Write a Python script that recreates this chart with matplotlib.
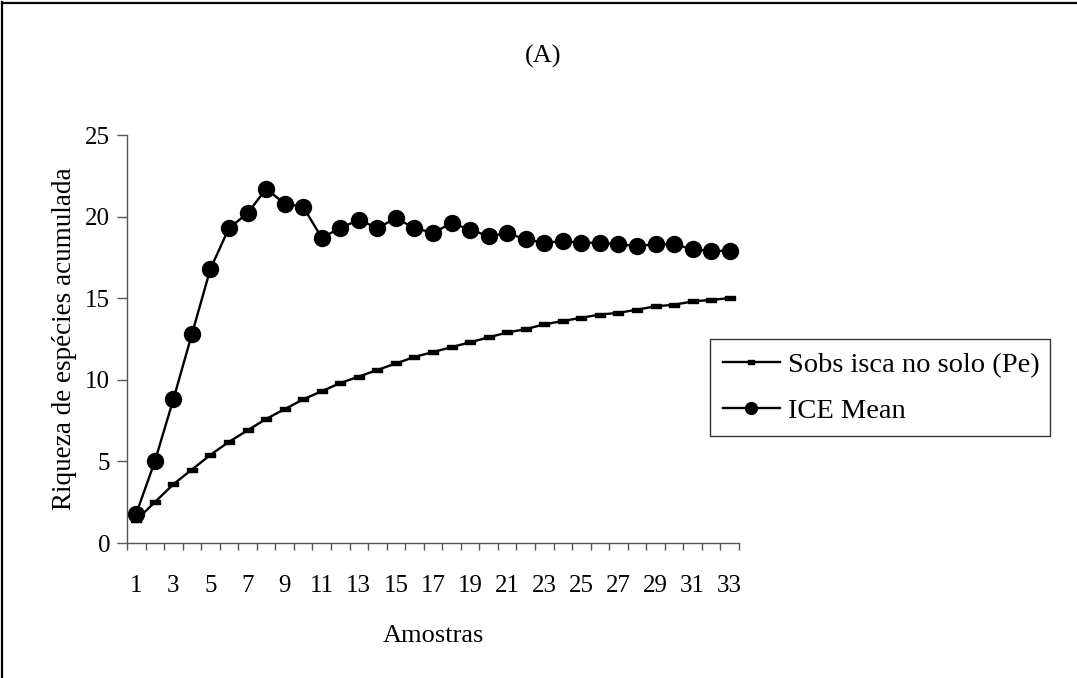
import numpy as np
import matplotlib.pyplot as plt
from matplotlib.lines import Line2D
from matplotlib.path import Path

plt.rcParams['font.family'] = ['Liberation Serif', 'DejaVu Serif']

amostras = np.arange(1, 34)
sobs = [1.4, 2.5, 3.6, 4.5, 5.4, 6.2, 6.9, 7.6, 8.2, 8.8, 9.3, 9.8, 10.2, 10.6, 11.0,
        11.4, 11.7, 12.0, 12.3, 12.6, 12.9, 13.1, 13.4, 13.6, 13.8, 14.0, 14.1, 14.3,
        14.5, 14.6, 14.8, 14.9, 15.0]
ice = [1.8, 5.0, 8.8, 12.8, 16.8, 19.3, 20.2, 21.7, 20.8, 20.6, 18.7, 19.3, 19.8, 19.3,
       19.9, 19.3, 19.0, 19.6, 19.2, 18.8, 19.0, 18.6, 18.4, 18.5, 18.4, 18.4, 18.3,
       18.2, 18.3, 18.3, 18.0, 17.9, 17.9]

# small flat dash like the excel marker
dash = Path([(-1, -0.45), (1, -0.45), (1, 0.45), (-1, 0.45), (-1, -0.45)],
            [Path.MOVETO, Path.LINETO, Path.LINETO, Path.LINETO, Path.CLOSEPOLY])

W, H = 1077, 678
fig = plt.figure(figsize=(W/100, H/100), dpi=100)
ax = fig.add_axes([127/W, 1-543/H, (739-127)/W, (543-135)/H])

ax.plot(amostras, sobs, color='black', lw=1.7, marker=dash, markersize=7,
        label='Sobs isca no solo (Pe)')
ax.plot(amostras, ice, color='black', lw=1.7, marker='o', markersize=11.5,
        label='ICE Mean')

ax.set_xlim(0.5, 33.5)
ax.set_ylim(0, 25)
ax.set_yticks([0, 5, 10, 15, 20, 25])
ax.set_xticks(np.arange(1, 34, 2))
ax.set_xticks(np.arange(0.5, 34, 1), minor=True)
ax.tick_params(axis='x', which='major', length=0, pad=23, labelsize=18)
ax.tick_params(axis='x', which='minor', length=5, direction='out', width=1, color='#555555')
ax.tick_params(axis='y', length=7, direction='out', width=1, color='#555555', labelsize=18, pad=5)
for s in ['top', 'right']:
    ax.spines[s].set_visible(False)
for s in ['left', 'bottom']:
    ax.spines[s].set_color('#555555')
    ax.spines[s].set_linewidth(1)

ax.set_ylabel('Riqueza de espécies acumulada', fontsize=19.5, labelpad=6)
ax.set_xlabel('Amostras', fontsize=19, labelpad=20)
fig.text(543/W, 1-56/H, '(A)', fontsize=19, ha='center', va='center')

leg = ax.legend(loc='upper left', bbox_to_anchor=(710/W, 1-339/H, (1050-710)/W, 0),
                bbox_transform=fig.transFigure, mode='expand', fontsize=20.5, frameon=True,
                fancybox=False, edgecolor='black', handlelength=2.0, handletextpad=0.3,
                borderaxespad=0, labelspacing=0.7, borderpad=0.45)
leg.get_frame().set_linewidth(1)
leg.legend_handles[1].set_markersize(8.5)
leg.legend_handles[0].set_markersize(5)

# border of the chart area: only the left and top edges show
fig.add_artist(Line2D([2.5/W, 2.5/W], [0, 1-2/H], transform=fig.transFigure,
                      color='black', lw=1.6))
fig.add_artist(Line2D([2/W, 1], [1-2.5/H, 1-2.5/H], transform=fig.transFigure,
                      color='black', lw=1.6))

fig.savefig('out.png', dpi=100)
